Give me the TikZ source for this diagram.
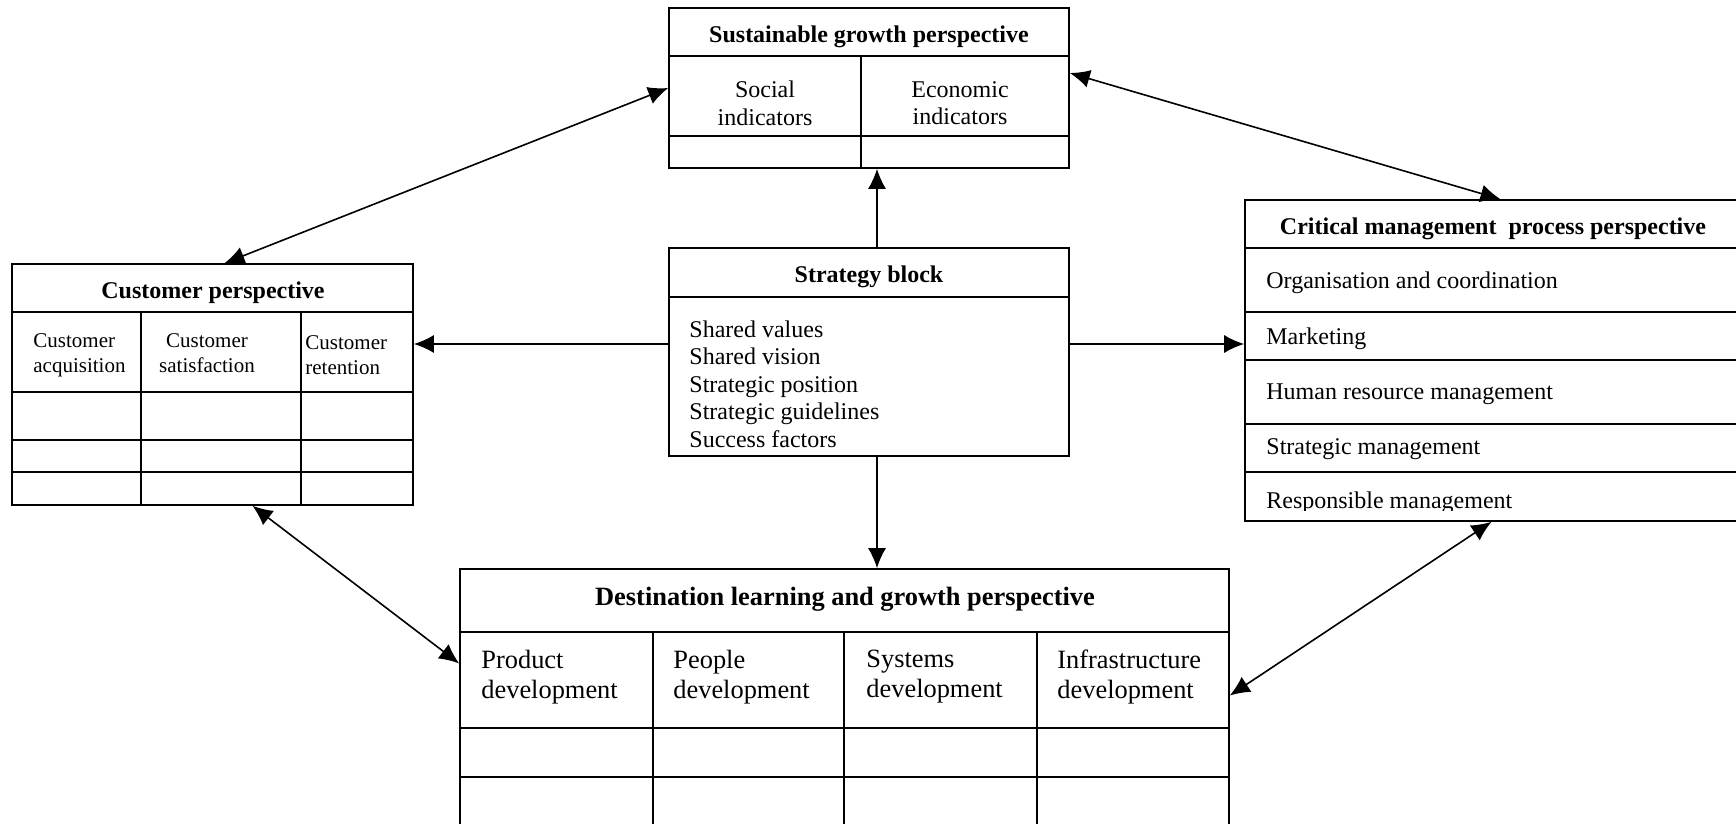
\documentclass[tikz,border=0pt]{standalone}
\usepackage{fontspec}
\setmainfont{Liberation Serif}
\usetikzlibrary{arrows.meta}

\begin{document}
\begin{tikzpicture}[x=0.5pt, y=-0.5pt, >={Latex[length=10pt,width=9pt]},
        frame/.style={draw, line width=0.8pt, inner sep=0pt},
        link/.style={line width=0.8pt},
        head/.style={font=\fontsize{12}{13.8}\selectfont\bfseries, inner sep=0pt},
        cell/.style={font=\fontsize{12}{13.8}\selectfont, inner sep=0pt, align=center},
        small/.style={font=\fontsize{10.5}{12.5}\selectfont, inner sep=0pt},
        item/.style={font=\fontsize{12}{13.75}\selectfont, inner sep=0pt, anchor=base west},
        big/.style={font=\fontsize{13.2}{15}\selectfont, inner sep=0pt, align=left, anchor=north west}]
        % --- PAGE ---
        \useasboundingbox (0,0) rectangle (1736,824);
        \clip (0,0) rectangle (1736,824);

        % --- SUSTAINABLE GROWTH PERSPECTIVE ---
        \node[frame, minimum width=200pt, minimum height=80pt] (sus) at (869,88) {};
        \draw[link] (669,56) -- (1069,56);
        \draw[link] (669,136) -- (1069,136);
        \draw[link] (861,56) -- (861,168);
        \node[head] (sus-h) at (869,37) {Sustainable growth perspective};
        \node[cell] (sus-soc) at (765,103) {Social\\indicators};
        \node[cell] (sus-eco) at (960,103) {Economic\\indicators};

        % --- CUSTOMER PERSPECTIVE ---
        \node[frame, minimum width=200.5pt, minimum height=120.5pt] (cust) at (212.5,384.5) {};
        \foreach \y in {312,392,440,472} \draw[link] (12,\y) -- (413,\y);
        \foreach \x in {141,301} \draw[link] (\x,312) -- (\x,505);
        \node[head] (cust-h) at (213,293) {Customer perspective};
        \node[small, align=left, anchor=west] (cust-acq) at (33,355) {Customer\\acquisition};
        \node[small, align=center] (cust-sat) at (207,353) {Customer\\satisfaction};
        \node[small, align=left, anchor=west] (cust-ret) at (305,355) {Customer\\retention};

        % --- STRATEGY BLOCK ---
        \node[frame, minimum width=200pt, minimum height=104pt] (strat) at (869,352) {};
        \draw[link] (669,297) -- (1069,297);
        \node[head] (strat-h) at (869,277) {Strategy block};
        \node[item] (strat-1) at (689,337) {Shared values};
        \node[item] (strat-2) at (689,364.5) {Shared vision};
        \node[item] (strat-3) at (689,392) {Strategic position};
        \node[item] (strat-4) at (689,419.5) {Strategic guidelines};
        \node[item] (strat-5) at (689,447) {Success factors};

        % --- CRITICAL MANAGEMENT PROCESS PERSPECTIVE ---
        \node[frame, minimum width=257.5pt, minimum height=160.5pt] (crit) at (1502.5,360.5) {};
        \foreach \y in {248,312,360,424,472} \draw[link] (1245,\y) -- (1760,\y);
        \node[head] (crit-h) at (1493,229) {Critical management\ \ process perspective};
        \node[item] (crit-1) at (1266,288) {Organisation and coordination};
        \node[item] (crit-2) at (1266,344) {Marketing};
        \node[item] (crit-3) at (1266,399) {Human resource management};
        \node[item] (crit-4) at (1266,454) {Strategic management};
        \begin{scope}
            \clip (1246,473) rectangle (1740,510);
            \node[item] (crit-5) at (1266,508) {Responsible management};
        \end{scope}

        % --- DESTINATION LEARNING AND GROWTH PERSPECTIVE ---
        \node[frame, minimum width=384.5pt, minimum height=140.5pt] (dest) at (844.5,709.5) {};
        \foreach \y in {632,728,777} \draw[link] (460,\y) -- (1229,\y);
        \foreach \x in {653,844,1037} \draw[link] (\x,632) -- (\x,850);
        \node[head, font=\fontsize{13.2}{15}\selectfont\bfseries] (dest-h) at (845,599) {Destination learning and growth perspective};
        \node[big] (dest-pro) at (481,650) {Product\\development};
        \node[big] (dest-peo) at (673,650) {People\\development};
        \node[big] (dest-sys) at (866,650) {Systems\\development};
        \node[big] (dest-inf) at (1057,650) {Infrastructure\\development};

        % --- LINKS FROM THE STRATEGY BLOCK ---
        \draw[link, ->] ([xshift=4pt]strat.north) -- ([xshift=4pt]sus.south);
        \draw[link, ->] ([xshift=4pt]strat.south) -- ([xshift=4pt]strat.south |- dest.north);
        \draw[link, ->] ([yshift=4pt]strat.west) -- ([yshift=4pt]strat.west -| cust.east);
        \draw[link, ->] ([yshift=4pt]strat.east) -- ([yshift=4pt]strat.east -| crit.west);

        % --- LINKS BETWEEN PERSPECTIVES ---
        \draw[link, <->] ([xshift=6pt]cust.north) -- (sus.west);
        \draw[link, <->] ([yshift=7.5pt]sus.east) -- ([xshift=-1pt]crit.north);
        \draw[link, <->] ([xshift=20pt]cust.south) -- ([yshift=23pt]dest.west);
        \draw[link, <->] ([yshift=7pt]dest.east) -- ([xshift=-5.5pt]crit.south);
    \end{tikzpicture}
\end{document}
